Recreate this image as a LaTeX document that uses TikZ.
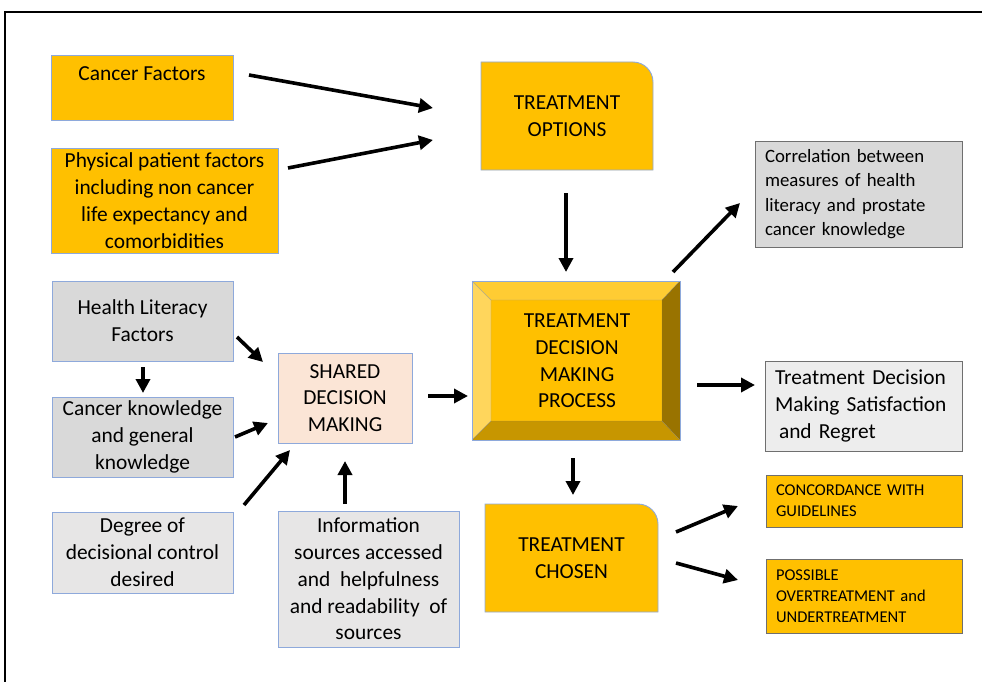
\documentclass[tikz,border=0pt]{standalone}
\usepackage{fontspec}
\setmainfont{Carlito}
\usetikzlibrary{arrows.meta,calc}
\definecolor{orng}{HTML}{FFC000}
\definecolor{bordr}{HTML}{8EA9DB}
\definecolor{darkbd}{HTML}{6F6F6F}
\definecolor{grayA}{HTML}{D9D9D9}
\definecolor{grayB}{HTML}{E7E6E6}
\definecolor{grayC}{HTML}{EDEDED}
\definecolor{peach}{HTML}{FBE5D6}
\definecolor{bvtop}{HTML}{FFCC33}
\definecolor{bvleft}{HTML}{FFD65C}
\definecolor{bvright}{HTML}{997300}
\definecolor{bvbot}{HTML}{C79600}
\tikzset{
  bx/.style={draw=bordr, line width=0.9pt, inner sep=0pt, outer sep=0pt, anchor=north west, align=center, text=black},
  big/.style={font=\fontsize{21.4}{26.8}\selectfont},
  mid/.style={font=\fontsize{18.8}{24.3}\selectfont},
  sml/.style={font=\fontsize{16.5}{21}\selectfont},
  arr/.style={line width=3.6pt, -{Triangle[length=14pt,width=14pt]}},
  txt/.style={align=center, inner sep=0pt, text=black},
}
\begin{document}
\begin{tikzpicture}[x=1pt,y=-1pt]
\useasboundingbox (0,0) rectangle (982,682);
\draw[line width=2pt] (5,682) -- (5,12) -- (982,12);

% left column
\node[bx, fill=orng, minimum width=182pt, minimum height=65pt] (cf) at (51,55) {};
\node[txt, big] (cft) at ($(cf.north)+(0,19)$) {Cancer Factors};
\node[bx, big, fill=orng, minimum width=227pt, minimum height=105pt] (phy) at (51,148)
  {Physical patient factors\\including non cancer\\life expectancy and\\comorbidities};
\node[bx, big, fill=grayA, minimum width=181pt, minimum height=80pt] (hl) at (52,281)
  {Health Literacy\\Factors};
\node[bx, big, fill=grayA, minimum width=181pt, minimum height=80pt] (ck) at (52,397)
  {Cancer knowledge\\and general\\knowledge};
\node[bx, big, fill=grayB, minimum width=181pt, minimum height=81pt] (deg) at (52,512)
  {Degree of\\decisional control\\desired};
\node[bx, big, fill=grayB, minimum width=181pt, minimum height=136pt] (info) at (278,511)
  {Information\\sources accessed\\and~ helpfulness\\and readability~ of\\sources};
\node[bx, big, fill=peach, minimum width=134pt, minimum height=90pt] (sdm) at (278,353)
  {SHARED\\DECISION\\MAKING};

% treatment options (rounded top-right corner)
\node[inner sep=0pt, outer sep=0pt, anchor=north west, minimum width=172pt, minimum height=108pt] (opt) at (481,62) {};
\draw[draw=bordr, line width=0.9pt, fill=orng] (opt.south west) -- (opt.north west)
  -- ($(opt.north east)+(-20pt,0pt)$) .. controls ($(opt.north east)+(-9pt,0pt)$) and ($(opt.north east)+(0pt,-9pt)$) .. ($(opt.north east)+(0pt,-20pt)$)
  -- (opt.south east) -- cycle;
\node[txt, big] at (opt.center) {TREATMENT\\OPTIONS};

% treatment chosen
\node[inner sep=0pt, outer sep=0pt, anchor=north west, minimum width=173pt, minimum height=108pt] (cho) at (485,504) {};
\draw[draw=bordr, line width=0.9pt, fill=orng] (cho.south west) -- (cho.north west)
  -- ($(cho.north east)+(-20pt,0pt)$) .. controls ($(cho.north east)+(-9pt,0pt)$) and ($(cho.north east)+(0pt,-9pt)$) .. ($(cho.north east)+(0pt,-20pt)$)
  -- (cho.south east) -- cycle;
\node[txt, big] at (cho.center) {TREATMENT\\CHOSEN};

% bevel box
\node[inner sep=0pt, outer sep=0pt, anchor=north west, minimum width=208pt, minimum height=159pt] (tdmp) at (472,281) {};
\coordinate (i1) at (491,300);
\coordinate (i2) at (662,300);
\coordinate (i3) at (662,421);
\coordinate (i4) at (491,421);
\fill[orng] (i1) rectangle (i3);
\fill[bvtop] (tdmp.north west) -- (tdmp.north east) -- (i2) -- (i1) -- cycle;
\fill[bvleft] (tdmp.north west) -- (i1) -- (i4) -- (tdmp.south west) -- cycle;
\fill[bvright] (tdmp.north east) -- (tdmp.south east) -- (i3) -- (i2) -- cycle;
\fill[bvbot] (tdmp.south west) -- (i4) -- (i3) -- (tdmp.south east) -- cycle;
\draw[bordr!70!black, line width=0.4pt, opacity=0.5] (tdmp.north west) -- (i1) (tdmp.north east) -- (i2) (tdmp.south east) -- (i3) (tdmp.south west) -- (i4) (i1) rectangle (i3);
\draw[bordr, line width=0.9pt] (tdmp.north west) rectangle (tdmp.south east);
\node[txt, big] at (577,361) {TREATMENT\\DECISION\\MAKING\\PROCESS};

% right column
\node[bx, mid, draw=darkbd, fill=grayA, minimum width=207pt, minimum height=106pt, align=left, text width=187pt] (cor) at (755,141)
  {Correlation between\\measures of health\\literacy and prostate\\cancer knowledge};
\node[bx, big, draw=darkbd, fill=grayC, minimum width=197pt, minimum height=90pt, align=left, text width=177pt] (sat) at (765,361)
  {Treatment Decision\\Making Satisfaction\\\hspace*{4pt}and Regret};
\node[bx, sml, draw=darkbd, fill=orng, minimum width=196pt, minimum height=52pt, align=left, text width=176pt] (con) at (766,475)
  {CONCORDANCE WITH\\GUIDELINES};
\node[bx, sml, draw=darkbd, fill=orng, minimum width=196pt, minimum height=74pt, align=left, text width=176pt] (pos) at (766,559)
  {POSSIBLE\\OVERTREATMENT and\\UNDERTREATMENT};

% arrows
\draw[arr] ($(cf.east)+(16,-12.5)$) -- ($(opt.west)+(-48,-8)$);
\draw[arr] ($(phy.east)+(10,-32.5)$) -- ($(opt.west)+(-48,24)$);
\draw[arr] ($(opt.south)+(-1,23)$) -- ($(tdmp.north)+(-10,-9)$);
\draw[arr] ($(tdmp.north east)+(-7,-9)$) -- ($(cor.west)+(-15,9)$);
\draw[arr] ($(tdmp.east)+(17,24.5)$) -- ($(sat.west)+(-10,-21)$);
\draw[arr] ($(tdmp.south)+(-3,18)$) -- ($(cho.north)+(1.5,-9)$);
\draw[arr] ($(cho.east)+(18,-26)$) -- ($(con.west)+(-28,5)$);
\draw[arr] ($(cho.east)+(18,5)$) -- ($(pos.west)+(-28,-16)$);
\draw[arr] ($(hl.south)+(0.5,6)$) -- ($(ck.north)+(0.5,-4)$);
\draw[arr] ($(hl.east)+(4,16)$) -- ($(sdm.west)+(-15,-36)$);
\draw[arr] ($(ck.east)+(2,0)$) -- ($(sdm.west)+(-10,25)$);
\draw[arr] ($(deg.north east)+(11,-7)$) -- ($(sdm.south west)+(12,7)$);
\draw[arr] ($(info.north)+(-23.5,-7)$) -- ($(sdm.south)+(0,18)$);
\draw[arr] ($(sdm.east)+(16,-2)$) -- ($(tdmp.west)+(-4,35.5)$);
\end{tikzpicture}
\end{document}
